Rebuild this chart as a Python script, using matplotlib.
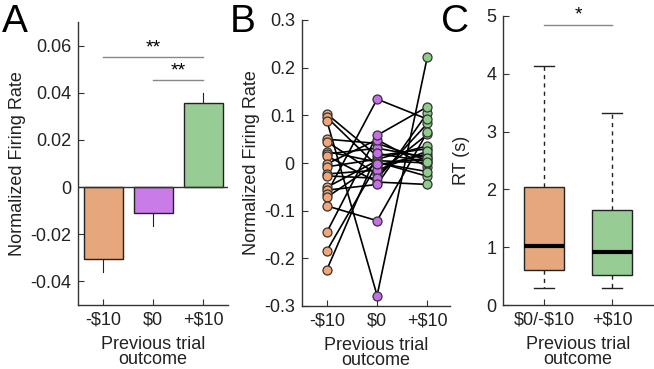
import matplotlib
matplotlib.use("Agg")
import matplotlib.pyplot as plt
import numpy as np

plt.rcParams['font.family'] = ['Liberation Sans', 'DejaVu Sans']

# ---- data ----
categories = ["-\\$10", "\\$0", "+\\$10"]
bar_means = [-0.0305, -0.011, 0.0355]
bar_sems = [0.0055, 0.0055, 0.0043]
bar_colors = ["#E5A77B", "#C97BE8", "#97CC95"]

# Panel B, per neuron (prev -$10, $0, +$10)
fr_neg10 = [0.103, 0.096, 0.089, 0.050, 0.045, 0.024, 0.019, 0.015, -0.002, -0.008,
            -0.023, -0.027, -0.051, -0.057, -0.064, -0.072, -0.090, -0.145, -0.184, -0.224]
fr_zero = [0.015, -0.006, -0.278, 0.041, -0.024, 0.002, 0.031, -0.040, 0.049, 0.008,
           -0.015, -0.032, 0.005, -0.045, 0.134, 0.000, -0.121, 0.058, -0.003, 0.020]
fr_pos10 = [0.030, 0.019, 0.223, 0.006, 0.060, -0.028, 0.012, -0.045, -0.008, 0.036,
            0.025, 0.083, 0.000, 0.105, 0.092, -0.018, 0.065, 0.118, 0.010, 0.003]

# Panel C boxplot stats
rt_labels = ["\\$0/-\\$10", "+\\$10"]
rt_whislo = [0.30, 0.30]
rt_q1 = [0.60, 0.52]
rt_med = [1.02, 0.92]
rt_q3 = [2.04, 1.65]
rt_whishi = [4.13, 3.32]
rt_colors = ["#E5A77B", "#97CC95"]

W, H = 654, 369
fig = plt.figure(figsize=(W / 100, H / 100), dpi=100)

def ax_rect(l, r, t, b):
    return [l / W, 1 - b / H, (r - l) / W, (b - t) / H]

axcol = "#333333"
fs = 13

def style(ax):
    for s in ["top", "right"]:
        ax.spines[s].set_visible(False)
    for s in ["left", "bottom"]:
        ax.spines[s].set_color(axcol)
        ax.spines[s].set_linewidth(1.0)
    ax.tick_params(direction="in", length=4, width=0.8, colors=axcol,
                   labelsize=fs, labelcolor="#222222", pad=5)

def xlab(ax):
    ax.set_xlabel("Previous trial\noutcome", fontsize=fs, color="#222222",
                  linespacing=0.85, labelpad=5)

# ---- Panel A ----
axA = fig.add_axes(ax_rect(78, 228, 22, 305))
style(axA)
x = np.arange(1, 4)
axA.bar(x, bar_means, width=0.78, color=bar_colors, edgecolor="#222222", linewidth=1.0, zorder=2)
for xi, m, e in zip(x, bar_means, bar_sems):
    end = m + e if m > 0 else m - e
    axA.plot([xi, xi], [m, end], color="#222222", lw=0.8, zorder=1)
axA.axhline(0, color="#333333", lw=1.0, zorder=3)
axA.set_xlim(0.5, 3.5)
axA.set_ylim(-0.05, 0.07)
axA.set_yticks([-0.04, -0.02, 0, 0.02, 0.04, 0.06])
axA.set_yticklabels(["-0.04", "-0.02", "0", "0.02", "0.04", "0.06"])
axA.set_xticks(x)
axA.set_xticklabels(categories)
axA.set_ylabel("Normalized Firing Rate", fontsize=fs, color="#222222", labelpad=3)
xlab(axA)
axA.plot([1, 3], [0.055, 0.055], color="#888888", lw=1.0)
axA.plot([2, 3], [0.0455, 0.0455], color="#888888", lw=1.0)
axA.text(2.0, 0.0553, "**", ha="center", va="bottom", fontsize=14)
axA.text(2.5, 0.0458, "**", ha="center", va="bottom", fontsize=14)

# ---- Panel B ----
axB = fig.add_axes(ax_rect(301.7, 450, 20, 306))
style(axB)
pt_colors = ["#F0A677", "#C46FE6", "#8FCB8D"]
for a, b, c in zip(fr_neg10, fr_zero, fr_pos10):
    axB.plot([1, 2, 3], [a, b, c], color="black", lw=1.2, zorder=1)
for xi, vals, col in zip([1, 2, 3], [fr_neg10, fr_zero, fr_pos10], pt_colors):
    axB.scatter(np.full(len(vals), xi), vals, s=42, color=col, edgecolor="#333333",
                linewidth=0.9, zorder=3)
axB.set_xlim(0.5, 3.45)
axB.set_ylim(-0.3, 0.3)
axB.set_yticks([-0.3, -0.2, -0.1, 0, 0.1, 0.2, 0.3])
axB.set_yticklabels(["-0.3", "-0.2", "-0.1", "0", "0.1", "0.2", "0.3"])
axB.set_xticks([1, 2, 3])
axB.set_xticklabels(categories)
axB.set_ylabel("Normalized Firing Rate", fontsize=fs, color="#222222", labelpad=3)
xlab(axB)

# ---- Panel C ----
axC = fig.add_axes(ax_rect(503.3, 653, 16, 305))
style(axC)
stats = []
for i in range(2):
    stats.append(dict(whislo=rt_whislo[i], q1=rt_q1[i], med=rt_med[i], q3=rt_q3[i],
                      whishi=rt_whishi[i], fliers=[], label=rt_labels[i]))
bp = axC.bxp(stats, positions=[1, 2], widths=0.58, patch_artist=True, showfliers=False,
             boxprops=dict(edgecolor="#222222", linewidth=1.0),
             medianprops=dict(color="black", linewidth=3.0),
             whiskerprops=dict(color="#222222", linestyle=(0, (3, 3)), linewidth=1.0),
             capprops=dict(color="#222222", linewidth=1.0), capwidths=0.29)
for patch, col in zip(bp["boxes"], rt_colors):
    patch.set_facecolor(col)
axC.set_xlim(0.4, 2.6)
axC.set_ylim(0, 5)
axC.set_yticks([0, 1, 2, 3, 4, 5])
axC.set_xticks([1, 2])
axC.set_xticklabels(rt_labels)
axC.set_ylabel("RT (s)", fontsize=fs, color="#222222", labelpad=12)
xlab(axC)
axC.plot([1, 2], [4.85, 4.85], color="#888888", lw=1.0, clip_on=False)
axC.text(1.5, 4.87, "*", ha="center", va="bottom", fontsize=14)

# ---- panel letters ----
for lab, px in [("A", 2), ("B", 230), ("C", 441)]:
    fig.text(px / W, 1 - 32 / H, lab, fontsize=28, ha="left", va="baseline", color="black")

fig.savefig("out.png", dpi=100)
